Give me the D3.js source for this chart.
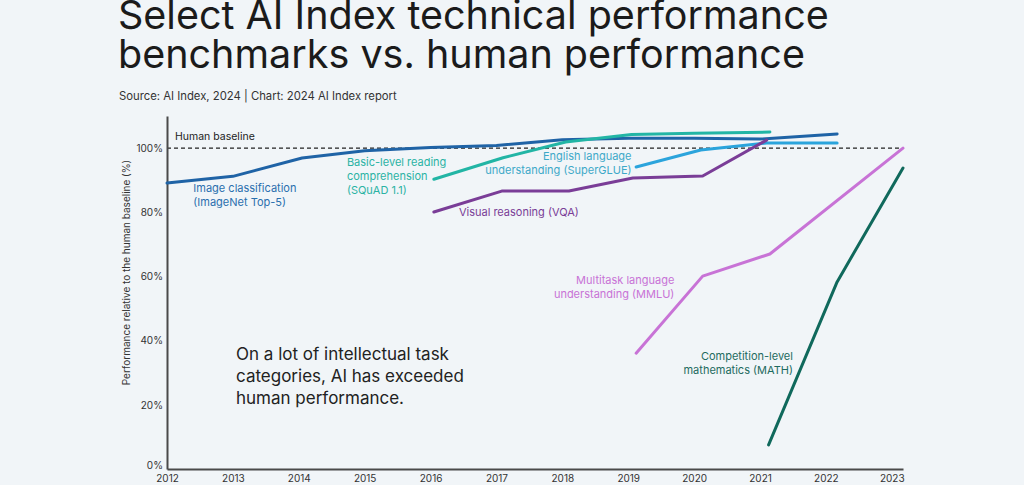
<!DOCTYPE html>
<html lang="en">
<head>
<meta charset="UTF-8">
<title>AI Index benchmarks vs human performance</title>
<script src="https://d3js.org/d3.v7.min.js"></script>
<style>
  html, body { margin: 0; padding: 0; background: #f1f5f8; }
  svg { display: block; font-family: Inter, "Open Sans", sans-serif; }
</style>
</head>
<body>
<svg id="chart" width="1024" height="485"></svg>
<script>
// benchmark series: [year, % of human baseline]
const imagenet = [[2012, 89.1], [2013, 91.2], [2014.05, 96.9], [2015, 99.2], [2016, 100.2], [2017, 100.8],
                  [2018, 102.6], [2019, 103.1], [2020, 103.1], [2021, 102.8], [2022.17, 104.4]];
const squad = [[2016.05, 90.3], [2017.1, 97.0], [2018.05, 101.9], [2019.05, 104.2], [2020, 104.6], [2021.15, 105.0]];
const superglue = [[2019.12, 94.1], [2020.1, 99.4], [2021.1, 101.6], [2022.17, 101.6]];
const vqa = [[2016.05, 80.1], [2017.08, 86.6], [2018.1, 86.6], [2019.07, 90.7], [2020.13, 91.3], [2021.1, 102.5]];
const mmlu = [[2019.12, 36.1], [2020.13, 60.1], [2021.15, 67.0], [2023.17, 100]];
const math = [[2021.13, 7.5], [2022.17, 58.3], [2023.17, 93.8]];

const years = d3.range(2012, 2024);
const yTicks = [0, 20, 40, 60, 80, 100];

const series = [
  { data: imagenet, color: "#1f63a6" },
  { data: squad, color: "#22b5a5" },
  { data: superglue, color: "#2ba4dc" },
  { data: vqa, color: "#7a3d97" },
  { data: mmlu, color: "#c873d6" },
  { data: math, color: "#10695c" }
];

const labels = [
  { lines: ["Image classification", "(ImageNet Top-5)"], x: 2012.4, y: 86.3, anchor: "start", color: "#2a6fae" },
  { lines: ["Basic-level reading", "comprehension", "(SQuAD 1.1)"], x: 2014.73, y: 94.4, anchor: "start", color: "#2bb3a4" },
  { lines: ["English language", "understanding (SuperGLUE)"], x: 2019.05, y: 96.2, anchor: "end", color: "#3ea9c8" },
  { lines: ["Visual reasoning (VQA)"], x: 2016.43, y: 78.8, anchor: "start", color: "#7a3d97" },
  { lines: ["Multitask language", "understanding (MMLU)"], x: 2019.7, y: 57.8, anchor: "end", color: "#c873d6" },
  { lines: ["Competition-level", "mathematics (MATH)"], x: 2021.5, y: 34.0, anchor: "end", color: "#1e6b60" }
];

const svg = d3.select("#chart");
const x = d3.scaleLinear().domain([2012, 2023.17]).range([167, 903]);
const y = d3.scaleLinear().domain([0, 110]).range([469, 116]);

// title block
svg.append("text").attr("x", 118).attr("y", 29)
  .attr("font-size", 39.5).attr("fill", "#1b1b1b").attr("font-weight", 400)
  .text("Select AI Index technical performance");
svg.append("text").attr("x", 118).attr("y", 68)
  .attr("font-size", 39.5).attr("fill", "#1b1b1b").attr("font-weight", 400)
  .text("benchmarks vs. human performance");
svg.append("text").attr("x", 119).attr("y", 100)
  .attr("font-size", 11.3).attr("fill", "#333")
  .text("Source: AI Index, 2024 | Chart: 2024 AI Index report");

// human baseline
svg.append("line")
  .attr("x1", x(2012)).attr("x2", x(2023.17))
  .attr("y1", y(100)).attr("y2", y(100))
  .attr("stroke", "#222").attr("stroke-width", 1.2).attr("stroke-dasharray", "4,3");
svg.append("text").attr("x", 175).attr("y", y(100) - 8)
  .attr("font-size", 10.5).attr("fill", "#222").text("Human baseline");

// axes
const xAxis = svg.append("g").attr("transform", `translate(0,${y(0)})`)
  .call(d3.axisBottom(x).tickValues(years).tickFormat(d3.format("d")).tickSize(0).tickPadding(6));
const yAxis = svg.append("g").attr("transform", `translate(${x(2012)},0)`)
  .call(d3.axisLeft(y).tickValues(yTicks).tickFormat(d => d + "%").tickSize(0).tickPadding(4));
[xAxis, yAxis].forEach(g => {
  g.select(".domain").attr("stroke", "#4a4a4a").attr("stroke-width", 2);
  g.selectAll("text").attr("font-family", "Inter, sans-serif").attr("font-size", 10).attr("fill", "#333");
});
yAxis.selectAll(".tick text").filter(d => d === 0).attr("dy", "-0.05em");

svg.append("text")
  .attr("transform", `translate(130,${(y(0) + y(110)) / 2 - 20}) rotate(-90)`)
  .attr("text-anchor", "middle").attr("font-size", 10).attr("fill", "#333")
  .text("Performance relative to the human baseline (%)");

// lines
const line = d3.line().x(d => x(d[0])).y(d => y(d[1]));
svg.selectAll("path.series").data(series).enter().append("path")
  .attr("class", "series")
  .attr("d", d => line(d.data))
  .attr("fill", "none").attr("stroke", d => d.color)
  .attr("stroke-width", 3).attr("stroke-linejoin", "round").attr("stroke-linecap", "round");

// series labels
labels.forEach(l => {
  const t = svg.append("text").attr("x", x(l.x)).attr("y", y(l.y))
    .attr("text-anchor", l.anchor).attr("font-size", 11).attr("fill", l.color);
  l.lines.forEach((s, i) => t.append("tspan").attr("x", x(l.x)).attr("dy", i ? 14 : 0).text(s));
});

// callout
const note = svg.append("text").attr("x", 236).attr("y", 360).attr("font-size", 17).attr("fill", "#222");
["On a lot of intellectual task", "categories, AI has exceeded", "human performance."]
  .forEach((s, i) => note.append("tspan").attr("x", 236).attr("dy", i ? 22 : 0).text(s));
</script>
</body>
</html>
